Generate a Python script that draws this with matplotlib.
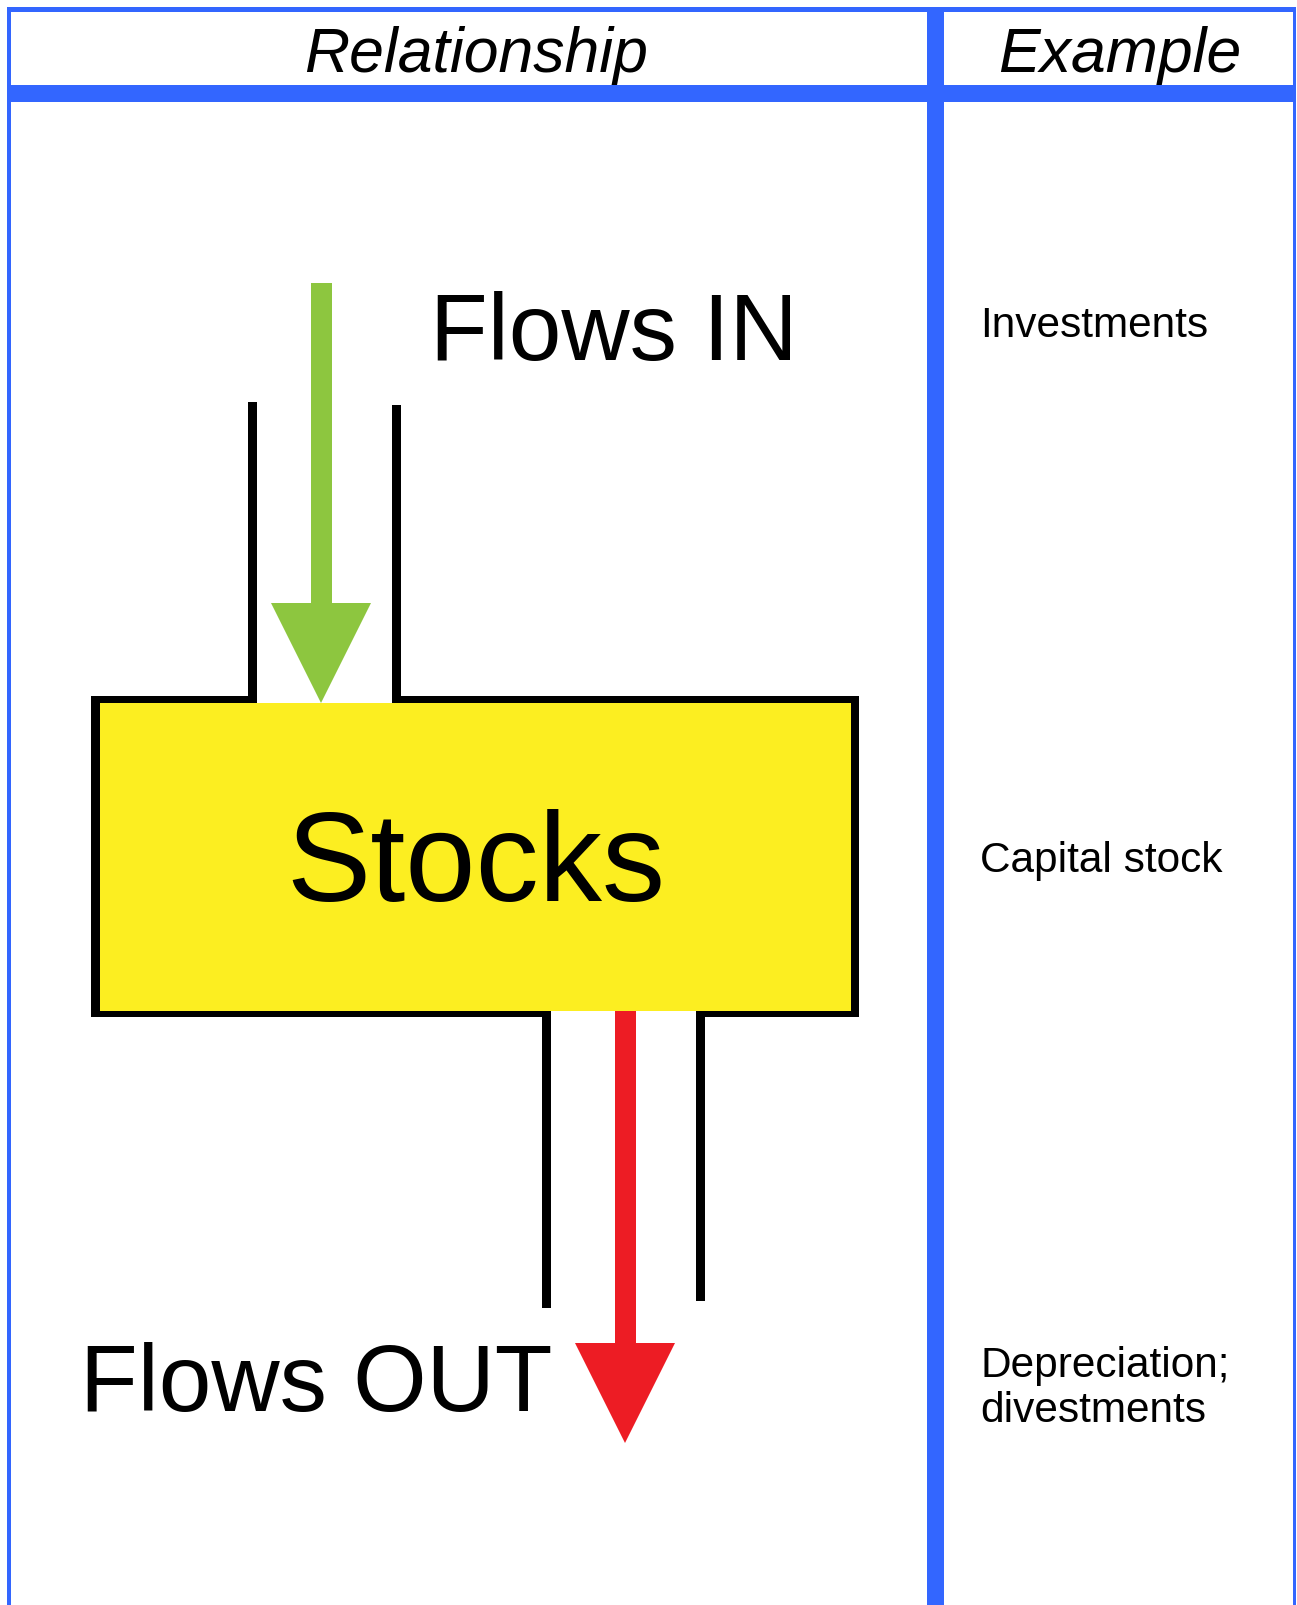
import matplotlib
matplotlib.use("Agg")
import matplotlib.pyplot as plt
from matplotlib.patches import Rectangle, Polygon

plt.rcParams['font.family'] = ['Liberation Sans', 'DejaVu Sans']

# texts
headers = ["Relationship", "Example"]
diagram_labels = ["Flows IN", "Stocks", "Flows OUT"]
examples = ["Investments", "Capital stock", "Depreciation;", "divestments"]

W, H = 1297, 1605
blue = '#3366FF'
green = '#8DC63F'
red = '#ED1C24'
yellow = '#FCEE21'

fig = plt.figure(figsize=(W / 100, H / 100), dpi=100)
ax = fig.add_axes([0, 0, 1, 1])
ax.set_xlim(0, W)
ax.set_ylim(H, 0)
ax.axis('off')

def rect(x0, y0, x1, y1, color, z=2):
    ax.add_patch(Rectangle((x0, y0), x1 - x0, y1 - y0, facecolor=color,
                           edgecolor='none', zorder=z))

# table frame
rect(7, 7, 1296, 12, blue)
rect(7, 85, 1296, 102, blue)
rect(7, 7, 11, H, blue)
rect(927, 7, 944, H, blue)
rect(1293, 7, 1296, H, blue)

# header text
ax.text(476, 72, headers[0], fontsize=45, style='italic', ha='center', va='baseline')
ax.text(1120, 72, headers[1], fontsize=45, style='italic', ha='center', va='baseline')

# stock box
rect(91, 696, 859, 1017, 'black')
rect(100, 703, 851, 1011, yellow, z=3)
# openings in the border
rect(257, 690, 392, 703, 'white', z=3)
rect(551, 1011, 696, 1020, 'white', z=3)

# inflow pipe walls
rect(248, 402, 257, 703, 'black', z=4)
rect(392, 405, 401, 703, 'black', z=4)
# outflow pipe walls
rect(542, 1011, 551, 1308, 'black', z=4)
rect(696, 1011, 705, 1301, 'black', z=4)

# green inflow arrow
rect(311, 283, 332, 604, green, z=5)
ax.add_patch(Polygon([(271, 603), (371, 603), (321, 703)], closed=True,
                     facecolor=green, edgecolor='none', zorder=5))
# red outflow arrow
rect(615, 1011, 636, 1344, red, z=5)
ax.add_patch(Polygon([(575, 1343), (675, 1343), (625, 1443)], closed=True,
                     facecolor=red, edgecolor='none', zorder=5))

# diagram labels
ax.text(430, 360, diagram_labels[0], fontsize=68, ha='left', va='baseline')
ax.text(476, 901, diagram_labels[1], fontsize=91, ha='center', va='baseline', zorder=6)
ax.text(80, 1411, diagram_labels[2], fontsize=68, ha='left', va='baseline')

# example column
for label, y in zip(examples, [337, 872, 1377, 1422]):
    ax.text(980, y, label, fontsize=30.5, ha='left', va='baseline')

fig.savefig('out.png', dpi=100)
